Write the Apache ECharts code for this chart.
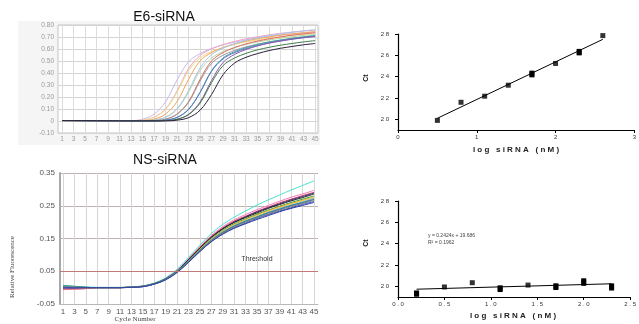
<!DOCTYPE html>
<html><head><meta charset="utf-8">
<script src="https://cdn.jsdelivr.net/npm/echarts@6/dist/echarts.min.js"></script>
<style>html,body{margin:0;padding:0;background:#fff}#c{width:639px;height:324px}</style>
</head><body><div id="c"></div>
<script>
// ---------- E6-siRNA amplification curves ----------
const e6Cycles = [1,5,9,13,15,17,19,21,23,25,27,29,31,33,35,37,39,41,43,45];
const e6_c1  = [.004,.003,.003,.003,.015,.057,.16,.342,.494,.562,.604,.635,.657,.676,.692,.705,.717,.727,.735,.742];
const e6_c2  = [.003,.002,.002,.001,.008,.031,.101,.25,.437,.546,.601,.636,.663,.685,.702,.718,.73,.741,.75,.758];
const e6_c3  = [.004,.003,.002,.001,.008,.03,.098,.24,.42,.525,.578,.611,.638,.659,.675,.69,.702,.713,.722,.729];
const e6_c4  = [.003,.002,.002,.001,.003,.015,.058,.162,.347,.501,.57,.612,.643,.666,.685,.701,.715,.726,.736,.745];
const e6_c5  = [.004,.003,.002,.001,.001,.008,.03,.098,.24,.42,.525,.578,.611,.638,.659,.675,.69,.702,.713,.722];
const e6_c6  = [.003,.002,.001,.001,.001,.008,.032,.103,.253,.442,.553,.608,.644,.672,.694,.711,.727,.739,.751,.76];
const e6_c7  = [.004,.003,.002,.001,.001,.003,.015,.058,.162,.347,.501,.57,.612,.643,.666,.685,.701,.715,.726,.736];
const e6_c8  = [.003,.002,.001,.001,.001,.003,.015,.056,.155,.333,.481,.548,.588,.618,.64,.659,.673,.687,.698,.707];
const e6_c9  = [.004,.003,.002,.001,.001,.001,.008,.03,.098,.24,.42,.525,.578,.611,.638,.659,.675,.69,.702,.713];
const e6_c10 = [.003,.002,.001,.001,.001,.001,.007,.03,.096,.237,.414,.518,.57,.603,.629,.65,.666,.681,.693,.703];
const e6_c11 = [.004,.003,.002,.001,.001,.001,.003,.015,.056,.158,.338,.488,.555,.596,.626,.649,.668,.683,.696,.707];
const e6_c12 = [.003,.002,.001,.001,.001,.001,.003,.014,.053,.149,.32,.462,.525,.564,.593,.614,.632,.646,.659,.67];
const e6_c13 = [.004,.003,.002,.001,.001,.001,.001,.007,.028,.09,.221,.386,.483,.531,.562,.587,.606,.621,.635,.646];
const e6Curves = [e6_c1,e6_c2,e6_c3,e6_c4,e6_c5,e6_c6,e6_c7,e6_c8,e6_c9,e6_c10,e6_c11,e6_c12,e6_c13];
const e6Colors = ['#c9b9ea','#f2a3c6','#eedc88','#f3a45a','#b5dca0','#a9c4ea','#e2686a','#9a9a9a','#3fa3a6','#5a78c8','#8a5aa8','#3e7e4a','#2c1f3c'];

// ---------- NS-siRNA amplification curves ----------
const nsCycles = [1,3,5,7,9,11,13,15,17,19,21,23,25,27,29,31,33,35,37,39,41,43,45];
const ns_1  = [.006,.004,.002,.001,.001,.001,.002,.005,.014,.03,.056,.092,.13,.165,.193,.215,.234,.252,.268,.283,.298,.312,.326];
const ns_2  = [-.004,-.004,-.003,0,0,0,.002,.004,.013,.028,.053,.088,.125,.159,.186,.207,.223,.238,.251,.264,.276,.286,.297];
const ns_3  = [-.005,-.004,-.003,0,0,0,.002,.004,.012,.027,.052,.086,.123,.156,.182,.203,.218,.233,.246,.259,.27,.281,.291];
const ns_4  = [.003,.002,0,0,0,0,.001,.003,.011,.026,.05,.084,.121,.154,.18,.2,.216,.231,.244,.256,.268,.278,.289];
const ns_5  = [.002,.001,0,0,0,0,.002,.004,.012,.027,.051,.085,.12,.153,.179,.199,.214,.228,.242,.254,.265,.275,.286];
const ns_6  = [.005,.003,.001,0,0,0,.002,.004,.012,.026,.05,.083,.118,.15,.175,.195,.21,.224,.237,.249,.26,.27,.28];
const ns_7  = [-.003,-.003,-.002,0,0,0,.002,.004,.012,.026,.05,.082,.117,.149,.173,.193,.208,.222,.235,.247,.257,.267,.277];
const ns_8  = [.002,.001,0,0,0,0,.002,.004,.012,.025,.049,.081,.116,.147,.172,.191,.206,.22,.232,.244,.255,.265,.274];
const ns_9  = [.004,.003,.001,0,0,0,.002,.004,.011,.025,.048,.081,.114,.146,.17,.189,.204,.217,.23,.242,.252,.262,.272];
const ns_10 = [-.002,-.002,-.001,0,0,0,.001,.004,.011,.025,.048,.08,.113,.144,.168,.187,.202,.215,.228,.239,.25,.259,.269];
const ns_11 = [.006,.004,.001,0,0,0,.002,.005,.013,.027,.05,.082,.115,.145,.169,.188,.203,.216,.229,.24,.251,.26,.27];
const ns_12 = [.001,0,0,0,0,0,.001,.003,.011,.024,.047,.078,.111,.141,.165,.183,.197,.211,.223,.234,.244,.254,.263];
const ns_13 = [.003,.002,0,0,0,0,.001,.004,.011,.025,.047,.079,.112,.143,.166,.185,.2,.213,.225,.237,.247,.257,.266];
const ns_14 = [-.001,-.001,0,0,0,0,.001,.003,.011,.024,.046,.077,.11,.14,.163,.181,.195,.208,.22,.232,.242,.251,.26];
const nsCurves = [ns_1,ns_2,ns_3,ns_4,ns_5,ns_6,ns_7,ns_8,ns_9,ns_10,ns_11,ns_12,ns_13,ns_14];
const nsColors = ['#45e3cf','#f07cc0','#e0304e','#23307e','#222222','#30a030','#f0a030','#e0d040','#80b0f0','#9050c0','#209090','#3050d0','#808080','#3040a0'];
const nsThreshold = 0.05;

// ---------- Standard curves (Ct vs log siRNA) ----------
const e6LogConc = [0.5,0.8,1.1,1.4,1.7,2.0,2.3,2.6];
const e6Ct      = [19.9,21.6,22.17,23.2,24.25,25.24,26.3,27.85];
const e6CtErr   = [0,0,0,0,0.08,0,0.07,0];
const e6FitX    = [0.5,2.6];
const e6FitY    = [20.1,27.5];

const nsLogConc = [0.2,0.5,0.8,1.1,1.4,1.7,2.0,2.3];
const nsCt      = [19.32,19.94,20.34,19.78,20.12,19.97,20.4,19.94];
const nsCtErr   = [0.06,0,0,0.08,0,0.08,0.12,0.1];
const nsFitX    = [0.2,2.3];
const nsFitY    = [19.73,20.24];
const nsEquation = 'y = 0.2424x + 19.686';
const nsR2       = 'R² = 0.1962';

const oddCycles = [1,3,5,7,9,11,13,15,17,19,21,23,25,27,29,31,33,35,37,39,41,43,45];
const ctTicks = [20,22,24,26,28];

// ---------- build ----------
const spaced = s => String(s).split('').join(' ');
const pairs = (xs, ys) => xs.map((x,i)=>[x, ys[i]]);

const series = [];
e6Curves.forEach((c,i)=>series.push({type:'line', xAxisIndex:0, yAxisIndex:0, data:pairs(e6Cycles,c), showSymbol:false, symbol:'none', smooth:0.35, lineStyle:{width:1, color:e6Colors[i]}, silent:true}));
nsCurves.forEach((c,i)=>series.push({type:'line', xAxisIndex:2, yAxisIndex:2, data:pairs(nsCycles,c), showSymbol:false, symbol:'none', smooth:0.35, lineStyle:{width:1, color:nsColors[i]}, silent:true}));
series.push({type:'line', xAxisIndex:2, yAxisIndex:2, data:[], markLine:{silent:true, symbol:'none', label:{show:false}, lineStyle:{color:'#c47a78', width:1, type:'solid'}, data:[{yAxis:nsThreshold}]}});

function errBars(xa, ya, xs, ys, es){
  return {type:'custom', xAxisIndex:xa, yAxisIndex:ya, silent:true,
    data: xs.map((x,i)=>[x, ys[i], es[i]]),
    renderItem:(p, api)=>{
      const e = api.value(2); if(!e) return null;
      const top = api.coord([api.value(0), api.value(1)+e]);
      const bot = api.coord([api.value(0), api.value(1)-e]);
      return {type:'rect', shape:{x:top[0]-2.5, y:top[1]-2.5, width:5, height:bot[1]-top[1]+5}, style:{fill:'#000'}};
    }};
}
series.push({type:'line', xAxisIndex:1, yAxisIndex:1, data:pairs(e6FitX,e6FitY), symbol:'none', lineStyle:{color:'#000', width:1}, silent:true});
series.push({type:'scatter', xAxisIndex:1, yAxisIndex:1, data:pairs(e6LogConc,e6Ct), symbol:'rect', symbolSize:5, itemStyle:{color:'#000'}, silent:true});
series.push(errBars(1,1,e6LogConc,e6Ct,e6CtErr));
series.push({type:'line', xAxisIndex:3, yAxisIndex:3, data:pairs(nsFitX,nsFitY), symbol:'none', lineStyle:{color:'#000', width:1}, silent:true});
series.push({type:'scatter', xAxisIndex:3, yAxisIndex:3, data:pairs(nsLogConc,nsCt), symbol:'rect', symbolSize:5, itemStyle:{color:'#000'}, silent:true});
series.push(errBars(3,3,nsLogConc,nsCt,nsCtErr));

const ctAxis = (gi)=>({type:'value', gridIndex:gi, min:19, max:28,
  axisLine:{show:true, onZero:false, lineStyle:{color:'#000', width:1.2}},
  axisTick:{show:true, length:3, customValues:ctTicks, lineStyle:{color:'#000'}},
  axisLabel:{customValues:ctTicks, fontSize:6, color:'#333', margin:9, fontFamily:'Arial', formatter:v=>spaced(v)},
  splitLine:{show:false}});

const option = {
  animation:false,
  backgroundColor:'#fff',
  grid:[
    {left:58, top:25, width:260, height:108, show:true, backgroundColor:'#fff', borderColor:'#c4c4c4', borderWidth:1},
    {left:398, top:34, width:238, height:96},
    {left:60, top:173, width:258, height:131, show:true, backgroundColor:'#fff', borderWidth:0},
    {left:398, top:201, width:239, height:96}
  ],
  xAxis:[
    {type:'value', gridIndex:0, min:0.3, max:45.5,
      axisLine:{show:false}, axisTick:{show:false, customValues:oddCycles},
      axisLabel:{customValues:oddCycles, fontSize:6.5, color:'#9a9a9a', margin:3, fontFamily:'Arial'},
      splitLine:{show:true, lineStyle:{color:'#dcdcdc', width:1}}},
    {type:'value', gridIndex:1, min:0, max:3, interval:1,
      axisLine:{show:true, onZero:false, lineStyle:{color:'#000', width:1.2}},
      axisTick:{show:true, length:3, lineStyle:{color:'#000'}},
      axisLabel:{fontSize:6, color:'#333', margin:4, fontFamily:'Arial'},
      splitLine:{show:false}},
    {type:'value', gridIndex:2, min:0.47, max:45.7,
      axisLine:{show:true, onZero:false, lineStyle:{color:'#b8b8b8', width:1}}, axisTick:{show:false, customValues:oddCycles},
      axisLabel:{customValues:oddCycles, fontSize:8, color:'#555', margin:4, fontFamily:'Arial'},
      splitLine:{show:true, lineStyle:{color:'#d6d6d6', width:1}}},
    {type:'value', gridIndex:3, min:0, max:2.5, interval:0.5,
      axisLine:{show:true, onZero:false, lineStyle:{color:'#000', width:1.2}},
      axisTick:{show:true, length:3, lineStyle:{color:'#000'}},
      axisLabel:{fontSize:6, color:'#333', margin:4, fontFamily:'Arial', formatter:v=>spaced(v.toFixed(1))},
      splitLine:{show:false}}
  ],
  yAxis:[
    {type:'value', gridIndex:0, min:-0.1, max:0.8, interval:0.1,
      axisLine:{show:false}, axisTick:{show:false},
      axisLabel:{fontSize:6.5, color:'#9a9a9a', margin:4, fontFamily:'Arial', formatter:v=>Math.abs(v)<1e-9?'0':v.toFixed(2)},
      splitLine:{show:true, lineStyle:{color:'#d4d4d4', width:1}}},
    ctAxis(1),
    {type:'value', gridIndex:2, min:-0.05, max:0.35,
      axisLine:{show:true, onZero:false, lineStyle:{color:'#a8a8a8', width:2}}, axisTick:{show:false, customValues:[-0.05,0.05,0.15,0.25,0.35]},
      axisLabel:{customValues:[-0.05,0.05,0.15,0.25,0.35], fontSize:8, color:'#555', margin:5, fontFamily:'Arial', formatter:v=>v.toFixed(2)},
      splitLine:{show:true, lineStyle:{color:'#bdb0b0', width:1}}},
    ctAxis(3)
  ],
  graphic:[
    {type:'rect', z:-100, shape:{x:18, y:21, width:302, height:124}, style:{fill:'#f5f5f5'}},
    {type:'text', x:164, y:17, style:{text:'E6-siRNA', font:'14px Arial', fill:'#111', textAlign:'center', textVerticalAlign:'middle'}},
    {type:'text', x:165, y:160, style:{text:'NS-siRNA', font:'14px Arial', fill:'#111', textAlign:'center', textVerticalAlign:'middle'}},
    {type:'text', x:257, y:259, style:{text:'Threshold', font:'7px Arial', fill:'#333', textAlign:'center', textVerticalAlign:'middle'}},
    {type:'text', x:12, y:267, rotation:Math.PI/2, style:{text:'Relative Fluorescence', font:'7px "Liberation Serif"', fill:'#444', textAlign:'center', textVerticalAlign:'middle'}},
    {type:'text', x:135, y:319, style:{text:'Cycle Number', font:'7px "Liberation Serif"', fill:'#444', textAlign:'center', textVerticalAlign:'middle'}},
    {type:'text', x:366, y:78, rotation:Math.PI/2, style:{text:'Ct', font:'bold 7px Arial', fill:'#222', textAlign:'center', textVerticalAlign:'middle'}},
    {type:'text', x:366, y:243, rotation:Math.PI/2, style:{text:'Ct', font:'bold 7px Arial', fill:'#222', textAlign:'center', textVerticalAlign:'middle'}},
    {type:'text', x:516, y:150, style:{text:'l o g   s i R N A   ( n M )', font:'bold 8px Arial', fill:'#222', textAlign:'center', textVerticalAlign:'middle'}},
    {type:'text', x:513, y:316, style:{text:'l o g   s i R N A   ( n M )', font:'bold 8px Arial', fill:'#222', textAlign:'center', textVerticalAlign:'middle'}},
    {type:'text', x:428, y:236, style:{text:nsEquation, font:'5px Arial', fill:'#444', textAlign:'left', textVerticalAlign:'middle'}},
    {type:'text', x:428, y:243, style:{text:nsR2, font:'5px Arial', fill:'#444', textAlign:'left', textVerticalAlign:'middle'}}
  ],
  series
};
const chart = echarts.init(document.getElementById('c'), null, {renderer:'canvas'});
chart.setOption(option);
</script></body></html>
